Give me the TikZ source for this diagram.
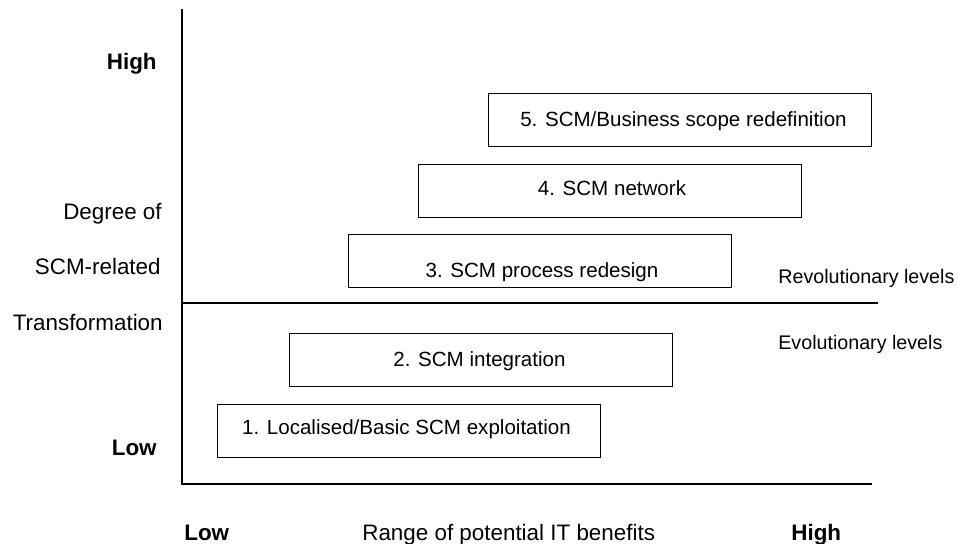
\documentclass[tikz,border=0pt]{standalone}
\usepackage{fontspec}
\setmainfont{Liberation Sans}
\usetikzlibrary{positioning}

\tikzset{
  axisline/.style={line width=1.7pt},
  levelbox/.style={draw, line width=0.6pt, anchor=north west, inner sep=0pt,
    minimum width=7.66cm, minimum height=1.06cm},
  boxtext/.style={anchor=base, inner sep=0pt, font=\fontsize{11.7pt}{14pt}\selectfont},
  sidetext/.style={anchor=base east, inner sep=0pt, font=\fontsize{12.75pt}{15pt}\selectfont},
  axistext/.style={anchor=base west, inner sep=0pt, font=\fontsize{12.75pt}{15pt}\selectfont},
  bandtext/.style={anchor=base west, inner sep=0pt, font=\fontsize{11.2pt}{13.5pt}\selectfont}
}

\begin{document}
\begin{tikzpicture}[x=0.02cm, y=-0.02cm]
    \useasboundingbox (0,0) rectangle (958,544);
    % axes and the split between the two kinds of levels
    \coordinate (top) at (182,9);
    \coordinate (origin) at (182,484);
    \coordinate (xend) at (872,484);
    \coordinate (splitL) at (182,303);
    \coordinate (splitR) at (878,303);
    \draw[axisline] (top) -- (origin) -- (xend);
    \draw[axisline] (splitL) -- (splitR);
    % the five levels
    \foreach \n/\bx/\by/\tx/\ty/\t in {
      1/217/404/406.5/434/{1. Localised/Basic SCM exploitation},
      2/289/333/479.5/366/{2. SCM integration},
      3/348/234/542/277/{3. SCM process redesign},
      4/418/164/612/195/{4. SCM network},
      5/488/93/683.5/127/{5. SCM/Business scope redefinition}} {
        \node[levelbox] (box\n) at (\bx,\by) {};
        \node[boxtext] (txt\n) at (\tx,\ty) {\t};
    }
    % vertical axis labels
    \node[sidetext] (yhigh) at (157,70) {\bfseries High};
    \node[sidetext] (ydeg) at (162,220) {Degree of};
    \node[sidetext] (yscm) at (161,275) {SCM-related};
    \node[sidetext] (ytrans) at (163,331) {Transformation};
    \node[sidetext] (ylow) at (157,455) {\bfseries Low};
    % horizontal axis labels
    \node[axistext] (xlow) at (184,540) {\bfseries Low};
    \node[axistext] (xrange) at (362,540) {Range of potential IT benefits};
    \node[axistext] (xhigh) at (791,540) {\bfseries High};
    % band labels
    \node[bandtext] (revo) at (778,284) {Revolutionary levels};
    \node[bandtext] (evo) at (778,350) {Evolutionary levels};
\end{tikzpicture}
\end{document}
